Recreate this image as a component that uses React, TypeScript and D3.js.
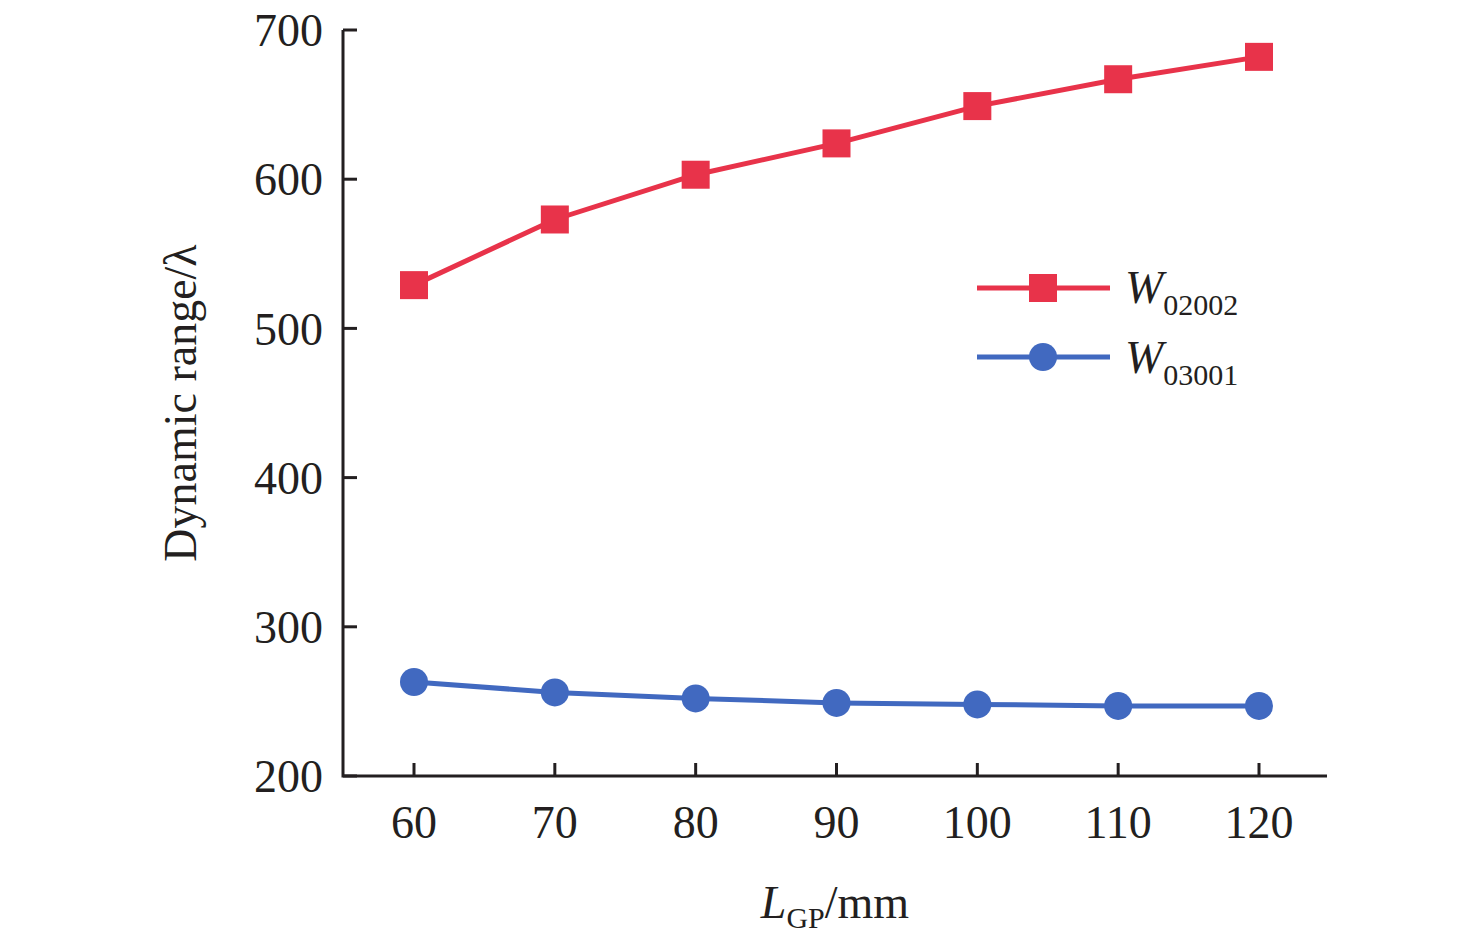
import React from 'react'
import * as d3 from 'd3'

const lengths = [60, 70, 80, 90, 100, 110, 120]
const w02002 = [529, 573, 603, 624, 649, 667, 682]
const w03001 = [263, 256, 252, 249, 248, 247, 247]
const yTicks = [200, 300, 400, 500, 600, 700]

const RED = '#e8334a'
const BLUE = '#4169c0'
const FONT = '"Times New Roman", "Liberation Serif", serif'

export default function App() {
  const x = d3.scaleLinear().domain([60, 120]).range([414, 1259])
  const y = d3.scaleLinear().domain([200, 700]).range([776, 30])
  const line = d3.line<number>().x((_, i) => x(lengths[i])).y((d) => y(d))

  return (
    <svg width={1476} height={948} style={{ display: 'block', margin: -8 }} fontFamily={FONT}>
      <rect width={1476} height={948} fill="white" />
      <path d="M343,30 V776 H1327" fill="none" stroke="#231f20" strokeWidth={3} />
      {yTicks.map((t) => (
        <g key={t}>
          <line x1={343} x2={357} y1={y(t)} y2={y(t)} stroke="#231f20" strokeWidth={3} />
          <text x={323} y={y(t)} dy="0.35em" textAnchor="end" fontSize={46} fill="#231f20">{t}</text>
        </g>
      ))}
      {lengths.map((t) => (
        <g key={t}>
          <line x1={x(t)} x2={x(t)} y1={776} y2={763} stroke="#231f20" strokeWidth={3} />
          <text x={x(t)} y={838} textAnchor="middle" fontSize={46} fill="#231f20">{t}</text>
        </g>
      ))}
      <text transform="translate(196,403) rotate(-90)" textAnchor="middle" fontSize={46} fill="#231f20">Dynamic range/λ</text>
      <text x={835} y={918} textAnchor="middle" fontSize={46} fill="#231f20">
        <tspan fontStyle="italic">L</tspan><tspan fontSize={30} dy={10}>GP</tspan><tspan dy={-10}>/mm</tspan>
      </text>

      <path d={line(w02002) ?? ''} fill="none" stroke={RED} strokeWidth={5} />
      {w02002.map((v, i) => (
        <rect key={i} x={x(lengths[i]) - 14} y={y(v) - 14} width={28} height={28} fill={RED} />
      ))}
      <path d={line(w03001) ?? ''} fill="none" stroke={BLUE} strokeWidth={5} />
      {w03001.map((v, i) => (
        <circle key={i} cx={x(lengths[i])} cy={y(v)} r={14} fill={BLUE} />
      ))}

      <line x1={977} x2={1110} y1={288} y2={288} stroke={RED} strokeWidth={5} />
      <rect x={1029} y={274} width={28} height={28} fill={RED} />
      <text x={1125} y={303} fontSize={46} fill="#231f20">
        <tspan fontStyle="italic">W</tspan><tspan fontSize={30} dy={12}>02002</tspan>
      </text>
      <line x1={977} x2={1110} y1={357} y2={357} stroke={BLUE} strokeWidth={5} />
      <circle cx={1043} cy={357} r={14} fill={BLUE} />
      <text x={1125} y={373} fontSize={46} fill="#231f20">
        <tspan fontStyle="italic">W</tspan><tspan fontSize={30} dy={12}>03001</tspan>
      </text>
    </svg>
  )
}
